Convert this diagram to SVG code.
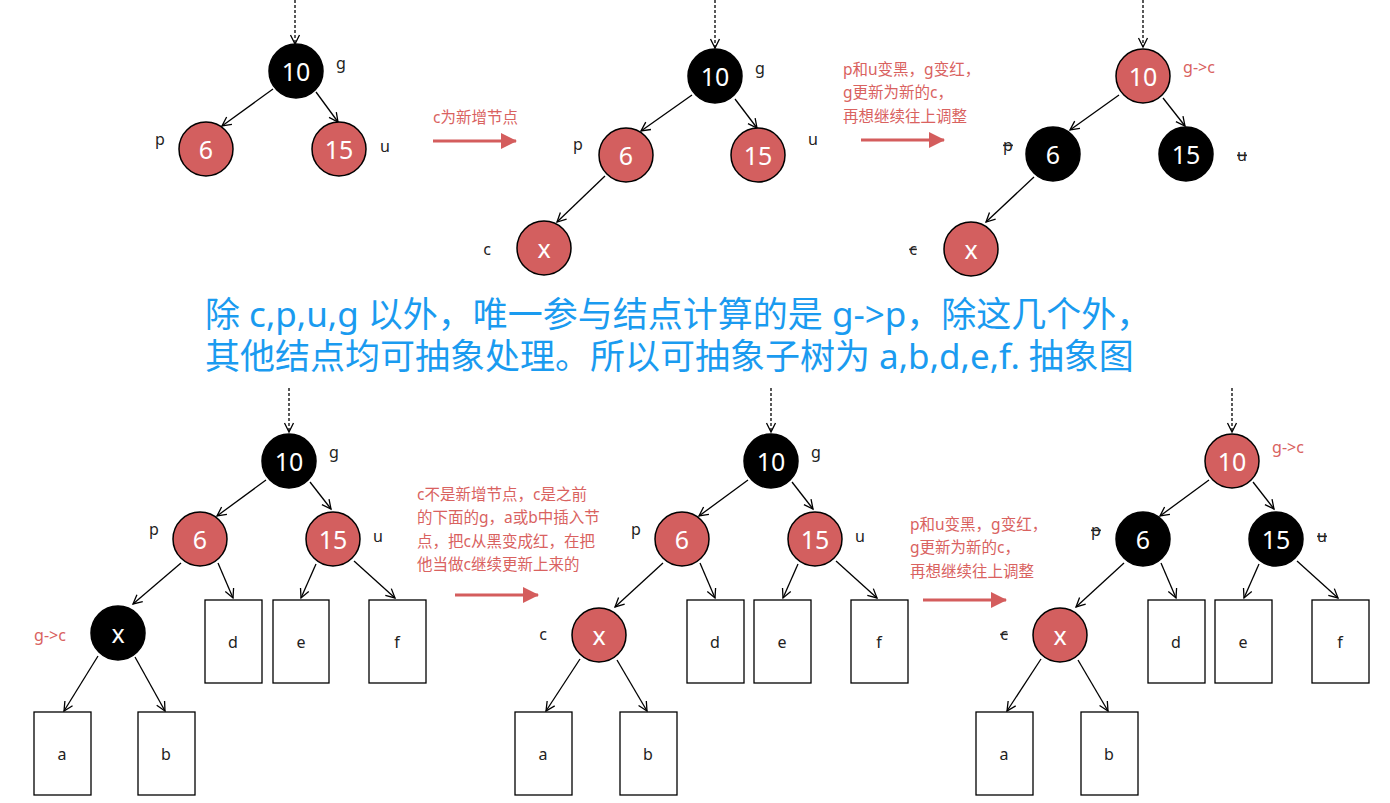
<svg xmlns="http://www.w3.org/2000/svg" width="1390" height="803" viewBox="0 0 1390 803">
<style>
text{font-family:"Noto Sans","Noto Sans CJK SC",sans-serif}
.nb{fill:#000;stroke:#000;stroke-width:1.5}
.nr{fill:#d35f5f;stroke:#000;stroke-width:1.5}
.nt{fill:#fff;font-size:25px;text-anchor:middle;dominant-baseline:central}
.lb{fill:#222;font-size:16px;text-anchor:middle;dominant-baseline:central}
.lr{fill:#d9625f;font-size:16px;text-anchor:middle;dominant-baseline:central}
.st{text-decoration:line-through}
.ed{stroke:#000;stroke-width:1.3;fill:none;marker-end:url(#oa)}
.dash{stroke:#000;stroke-width:1.3;fill:none;stroke-dasharray:3 2;marker-end:url(#oa)}
.ra{stroke:#d45d5d;stroke-width:3;fill:none;marker-end:url(#ta)}
.note{fill:#d9625f;font-size:15.5px}
.bx{fill:#fff;stroke:#000;stroke-width:1.3}
.bl{fill:#1a9bf0;font-size:35px}
</style>
<defs>
<marker id="oa" markerUnits="userSpaceOnUse" markerWidth="12" markerHeight="12" refX="10" refY="5" orient="auto" viewBox="0 0 12 10">
<path d="M1,0.5 L10,5 L1,9.5" fill="none" stroke="#000" stroke-width="1.3"/>
</marker>
<marker id="ta" markerUnits="userSpaceOnUse" markerWidth="16" markerHeight="16" refX="15" refY="8" orient="auto" viewBox="0 0 16 16">
<path d="M0,0 L16,8 L0,16 Z" fill="#d45d5d"/>
</marker>
</defs>

<g id="connectors">
<!-- top-left -->
<path class="dash" d="M295,0 L295,44"/>
<path class="ed" d="M273,89 L222,126"/>
<path class="ed" d="M316,92 L338,122"/>
<!-- top-middle -->
<path class="dash" d="M715,0 L715,48"/>
<path class="ed" d="M692,95 L641,131"/>
<path class="ed" d="M735,99 L757,128"/>
<path class="ed" d="M605,176 L557,222"/>
<!-- top-right -->
<path class="dash" d="M1143,0 L1143,47"/>
<path class="ed" d="M1119,95 L1070,130"/>
<path class="ed" d="M1163,98 L1185,126"/>
<path class="ed" d="M1034,177 L986,222"/>
<!-- bottom-left -->
<path class="dash" d="M289,388 L289,432"/>
<path class="ed" d="M266,480 L217,516"/>
<path class="ed" d="M310,482 L331,509"/>
<path class="ed" d="M181,563 L133,604"/>
<path class="ed" d="M218,563 L233,598"/>
<path class="ed" d="M316,564 L301,598"/>
<path class="ed" d="M354,561 L395,598"/>
<path class="ed" d="M98,656 L64,711"/>
<path class="ed" d="M135,657 L165,711"/>
<!-- bottom-middle -->
<path class="dash" d="M771,388 L771,432"/>
<path class="ed" d="M748,480 L699,516"/>
<path class="ed" d="M792,482 L813,509"/>
<path class="ed" d="M663,563 L615,607"/>
<path class="ed" d="M700,563 L715,598"/>
<path class="ed" d="M798,564 L783,598"/>
<path class="ed" d="M836,561 L877,598"/>
<path class="ed" d="M580,659 L546,711"/>
<path class="ed" d="M617,660 L647,711"/>
<!-- bottom-right -->
<path class="dash" d="M1232,388 L1232,432"/>
<path class="ed" d="M1209,480 L1160,516"/>
<path class="ed" d="M1253,482 L1274,509"/>
<path class="ed" d="M1124,563 L1076,607"/>
<path class="ed" d="M1161,563 L1176,598"/>
<path class="ed" d="M1259,564 L1244,598"/>
<path class="ed" d="M1297,561 L1338,598"/>
<path class="ed" d="M1041,659 L1007,711"/>
<path class="ed" d="M1078,660 L1108,711"/>
<!-- red transition arrows -->
<path class="ra" d="M433,141 L516,141"/>
<path class="ra" d="M861,140 L944,140"/>
<path class="ra" d="M455,595 L538,595"/>
<path class="ra" d="M923,600 L1006,600"/>
</g>

<!-- top-left tree -->
<g id="tl-10"><circle class="nb" cx="296" cy="71" r="27"/><text class="nt" x="296" y="71">10</text></g>
<g id="tl-6"><circle class="nr" cx="206" cy="149" r="27"/><text class="nt" x="206" y="149">6</text></g>
<g id="tl-15"><circle class="nr" cx="339" cy="149" r="27"/><text class="nt" x="339" y="149">15</text></g>
<g id="tl-labels"><text class="lb" x="341" y="63">g</text><text class="lb" x="160" y="139">p</text><text class="lb" x="385" y="146">u</text></g>

<!-- top-middle tree -->
<g id="tm-10"><circle class="nb" cx="715" cy="76" r="27"/><text class="nt" x="715" y="76">10</text></g>
<g id="tm-6"><circle class="nr" cx="626" cy="155" r="27"/><text class="nt" x="626" y="155">6</text></g>
<g id="tm-15"><circle class="nr" cx="758" cy="155" r="27"/><text class="nt" x="758" y="155">15</text></g>
<g id="tm-x"><circle class="nr" cx="544" cy="248" r="27"/><text class="nt" x="544" y="248">x</text></g>
<g id="tm-labels"><text class="lb" x="760" y="68">g</text><text class="lb" x="578" y="144">p</text><text class="lb" x="813" y="139">u</text><text class="lb" x="487" y="249">c</text></g>

<!-- top-right tree -->
<g id="tr-10"><circle class="nr" cx="1143" cy="76" r="27"/><text class="nt" x="1143" y="76">10</text></g>
<g id="tr-6"><circle class="nb" cx="1053" cy="154" r="27"/><text class="nt" x="1053" y="154">6</text></g>
<g id="tr-15"><circle class="nb" cx="1186" cy="154" r="27"/><text class="nt" x="1186" y="154">15</text></g>
<g id="tr-x"><circle class="nr" cx="971" cy="249" r="27"/><text class="nt" x="971" y="249">x</text></g>
<g id="tr-labels"><text class="lr" x="1199" y="67">g-&gt;c</text><text class="lb st" x="1008" y="145">p</text><text class="lb st" x="1242" y="155">u</text><text class="lb st" x="913" y="249">c</text></g>

<!-- top notes -->
<g id="note1"><text class="note" x="433" y="123">c为新增节点</text></g>
<g id="note2"><text class="note" x="843" y="75">p和u变黑，g变红，</text><text class="note" x="843" y="98">g更新为新的c，</text><text class="note" x="843" y="122">再想继续往上调整</text></g>

<!-- middle blue text -->
<g id="caption"><text class="bl" x="205" y="327">除 c,p,u,g 以外，唯一参与结点计算的是 g-&gt;p，除这几个外，</text><text class="bl" x="205" y="369">其他结点均可抽象处理。所以可抽象子树为 a,b,d,e,f. 抽象图</text></g>

<!-- bottom-left tree -->
<g id="bl-10"><circle class="nb" cx="289" cy="461" r="27"/><text class="nt" x="289" y="461">10</text></g>
<g id="bl-6"><circle class="nr" cx="200" cy="539" r="27"/><text class="nt" x="200" y="539">6</text></g>
<g id="bl-15"><circle class="nr" cx="333" cy="539" r="27"/><text class="nt" x="333" y="539">15</text></g>
<g id="bl-x"><circle class="nb" cx="118" cy="633" r="27"/><text class="nt" x="118" y="633">x</text></g>
<g id="bl-d"><rect class="bx" x="205" y="600" width="57" height="83"/><text class="lb" x="233" y="642">d</text></g>
<g id="bl-e"><rect class="bx" x="273" y="600" width="56" height="83"/><text class="lb" x="301" y="642">e</text></g>
<g id="bl-f"><rect class="bx" x="369" y="600" width="57" height="83"/><text class="lb" x="397" y="642">f</text></g>
<g id="bl-a"><rect class="bx" x="34" y="712" width="57" height="83"/><text class="lb" x="62" y="754">a</text></g>
<g id="bl-b"><rect class="bx" x="138" y="712" width="57" height="83"/><text class="lb" x="166" y="754">b</text></g>
<g id="bl-labels"><text class="lb" x="334" y="452">g</text><text class="lb" x="154" y="529">p</text><text class="lb" x="378" y="536">u</text><text class="lr" x="50" y="635">g-&gt;c</text></g>

<!-- bottom note 3 -->
<g id="note3"><text class="note" x="417" y="500">c不是新增节点，c是之前</text><text class="note" x="417" y="523">的下面的g，a或b中插入节</text><text class="note" x="417" y="547">点，把c从黑变成红，在把</text><text class="note" x="417" y="570">他当做c继续更新上来的</text></g>

<!-- bottom-middle tree -->
<g id="bm-10"><circle class="nb" cx="771" cy="461" r="27"/><text class="nt" x="771" y="461">10</text></g>
<g id="bm-6"><circle class="nr" cx="682" cy="539" r="27"/><text class="nt" x="682" y="539">6</text></g>
<g id="bm-15"><circle class="nr" cx="815" cy="539" r="27"/><text class="nt" x="815" y="539">15</text></g>
<g id="bm-x"><circle class="nr" cx="599" cy="635" r="27"/><text class="nt" x="599" y="635">x</text></g>
<g id="bm-d"><rect class="bx" x="687" y="600" width="57" height="83"/><text class="lb" x="715" y="642">d</text></g>
<g id="bm-e"><rect class="bx" x="754" y="600" width="57" height="83"/><text class="lb" x="782" y="642">e</text></g>
<g id="bm-f"><rect class="bx" x="851" y="600" width="57" height="83"/><text class="lb" x="879" y="642">f</text></g>
<g id="bm-a"><rect class="bx" x="515" y="712" width="57" height="83"/><text class="lb" x="543" y="754">a</text></g>
<g id="bm-b"><rect class="bx" x="620" y="712" width="57" height="83"/><text class="lb" x="648" y="754">b</text></g>
<g id="bm-labels"><text class="lb" x="816" y="452">g</text><text class="lb" x="636" y="529">p</text><text class="lb" x="860" y="536">u</text><text class="lb" x="543" y="634">c</text></g>

<!-- bottom note 4 -->
<g id="note4"><text class="note" x="910" y="530">p和u变黑，g变红，</text><text class="note" x="910" y="553">g更新为新的c，</text><text class="note" x="910" y="577">再想继续往上调整</text></g>

<!-- bottom-right tree -->
<g id="br-10"><circle class="nr" cx="1232" cy="461" r="27"/><text class="nt" x="1232" y="461">10</text></g>
<g id="br-6"><circle class="nb" cx="1143" cy="539" r="27"/><text class="nt" x="1143" y="539">6</text></g>
<g id="br-15"><circle class="nb" cx="1276" cy="539" r="27"/><text class="nt" x="1276" y="539">15</text></g>
<g id="br-x"><circle class="nr" cx="1060" cy="635" r="27"/><text class="nt" x="1060" y="635">x</text></g>
<g id="br-d"><rect class="bx" x="1148" y="600" width="57" height="83"/><text class="lb" x="1176" y="642">d</text></g>
<g id="br-e"><rect class="bx" x="1215" y="600" width="57" height="83"/><text class="lb" x="1243" y="642">e</text></g>
<g id="br-f"><rect class="bx" x="1312" y="600" width="57" height="83"/><text class="lb" x="1340" y="642">f</text></g>
<g id="br-a"><rect class="bx" x="976" y="712" width="57" height="83"/><text class="lb" x="1004" y="754">a</text></g>
<g id="br-b"><rect class="bx" x="1081" y="712" width="57" height="83"/><text class="lb" x="1109" y="754">b</text></g>
<g id="br-labels"><text class="lr" x="1288" y="447">g-&gt;c</text><text class="lb st" x="1096" y="530">p</text><text class="lb st" x="1322" y="536">u</text><text class="lb st" x="1004" y="634">c</text></g>
</svg>
